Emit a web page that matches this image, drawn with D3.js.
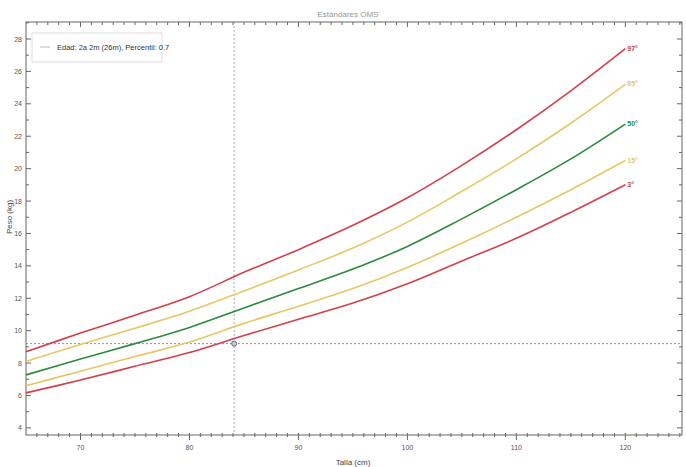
<!DOCTYPE html>
<html>
<head>
<meta charset="utf-8">
<script src="https://cdn.jsdelivr.net/npm/d3@7"></script>
<style>
  body { margin: 0; background: #fff; }
  text { font-family: "Liberation Sans Narrow", "Arial Narrow", "Liberation Sans", sans-serif; }
</style>
</head>
<body>
<div id="chart"></div>
<script>
// chart data (peso para talla, percentiles)
var tallas = [65, 70, 75, 80, 85, 90, 95, 100, 105, 110, 115, 120];
var p3  = [6.16, 6.95, 7.8, 8.65, 9.7, 10.7, 11.7, 12.9, 14.3, 15.7, 17.3, 19.0];
var p15 = [6.6, 7.5, 8.4, 9.3, 10.45, 11.5, 12.6, 13.9, 15.4, 17.0, 18.7, 20.5];
var p50 = [7.27, 8.25, 9.2, 10.2, 11.4, 12.6, 13.8, 15.2, 16.9, 18.7, 20.6, 22.75];
var p85 = [8.1, 9.15, 10.15, 11.2, 12.45, 13.75, 15.1, 16.7, 18.6, 20.6, 22.8, 25.2];
var p97 = [8.7, 9.85, 10.95, 12.1, 13.6, 15.0, 16.5, 18.2, 20.2, 22.4, 24.8, 27.4];
var percentiles = ['3°', '15°', '50°', '85°', '97°'];
var xTickLabels = [70, 80, 90, 100, 110, 120];
var yTickLabels = [4, 6, 8, 10, 12, 14, 16, 18, 20, 22, 24, 26, 28];
var pointTalla = [84.1];
var pointPeso = [9.2];
var legendText = ['Edad: 2a 2m (26m), Percentil: 0.7'];

var width = 686;
var height = 467;
var plotLeft = 26, plotRight = 682, plotTop = 22, plotBottom = 435;

var red = '#d2404c';
var yellow = '#e6c766';
var green = '#2b8a3c';
var colors = [red, yellow, green, yellow, red];
var series = [p3, p15, p50, p85, p97];

var svg = d3.select('#chart')
  .append('svg')
  .attr('width', width)
  .attr('height', height);

var x = d3.scaleLinear().domain([65, 125.2]).range([plotLeft, plotRight]);
var y = d3.scaleLinear().domain([3.56, 29.05]).range([plotBottom, plotTop]);

// title
svg.append('text')
  .attr('x', 348).attr('y', 17)
  .attr('text-anchor', 'middle')
  .attr('font-size', '8px')
  .attr('fill', '#999')
  .text('Estándares OMS');

// frame
svg.append('rect')
  .attr('x', plotLeft).attr('y', plotTop)
  .attr('width', plotRight - plotLeft).attr('height', plotBottom - plotTop)
  .attr('fill', 'none')
  .attr('stroke', '#666')
  .attr('stroke-width', 1);

// minor + major ticks, all four sides
var xMinor = d3.range(66, 126, 1);
var yMinor = d3.range(4, 30, 1);

svg.append('g').selectAll('line')
  .data(xMinor)
  .enter().append('line')
    .attr('x1', function(d) { return x(d); })
    .attr('x2', function(d) { return x(d); })
    .attr('y1', plotBottom - 2)
    .attr('y2', function(d) { return d % 10 === 0 ? plotBottom + 5 : plotBottom + 2; })
    .attr('stroke', '#666');

svg.append('g').selectAll('line')
  .data(xMinor)
  .enter().append('line')
    .attr('x1', function(d) { return x(d); })
    .attr('x2', function(d) { return x(d); })
    .attr('y1', plotTop)
    .attr('y2', function(d) { return d % 10 === 0 ? plotTop + 5 : plotTop + 3; })
    .attr('stroke', '#666');

svg.append('g').selectAll('line')
  .data(yMinor)
  .enter().append('line')
    .attr('x1', plotLeft)
    .attr('x2', function(d) { return d % 2 === 0 ? plotLeft + 5 : plotLeft + 3; })
    .attr('y1', function(d) { return y(d); })
    .attr('y2', function(d) { return y(d); })
    .attr('stroke', '#666');

svg.append('g').selectAll('line')
  .data(yMinor)
  .enter().append('line')
    .attr('x1', plotRight)
    .attr('x2', function(d) { return d % 2 === 0 ? plotRight - 5 : plotRight - 3; })
    .attr('y1', function(d) { return y(d); })
    .attr('y2', function(d) { return y(d); })
    .attr('stroke', '#666');

// tick labels
svg.append('g').selectAll('text')
  .data(xTickLabels)
  .enter().append('text')
    .attr('x', function(d) { return x(d); })
    .attr('y', 450)
    .attr('text-anchor', 'middle')
    .attr('font-size', '7px')
    .attr('fill', '#555')
    .text(function(d) { return d; });

svg.append('g').selectAll('text')
  .data(yTickLabels)
  .enter().append('text')
    .attr('x', plotLeft - 4)
    .attr('y', function(d) { return y(d) + 2.5; })
    .attr('text-anchor', 'end')
    .attr('font-size', '7px')
    .attr('fill', '#555')
    .text(function(d) { return d; });

// axis titles
svg.append('text')
  .attr('x', 353).attr('y', 465)
  .attr('text-anchor', 'middle')
  .attr('font-size', '8px')
  .attr('fill', '#444')
  .text('Talla (cm)');

svg.append('text')
  .attr('transform', 'translate(12,217) rotate(-90)')
  .attr('text-anchor', 'middle')
  .attr('font-size', '8px')
  .attr('fill', '#444')
  .text('Peso (kg)');

// crosshair
svg.append('line')
  .attr('x1', x(pointTalla[0])).attr('x2', x(pointTalla[0]))
  .attr('y1', plotTop).attr('y2', plotBottom)
  .attr('stroke', '#aaa')
  .attr('stroke-dasharray', '2,2');

svg.append('line')
  .attr('x1', plotLeft).attr('x2', plotRight)
  .attr('y1', y(pointPeso[0])).attr('y2', y(pointPeso[0]))
  .attr('stroke', '#d9707c')
  .attr('stroke-dasharray', '2,2');

// percentile curves
var line = d3.line()
  .x(function(d) { return x(d[0]); })
  .y(function(d) { return y(d[1]); })
  .curve(d3.curveCatmullRom);

series.forEach(function(s, i) {
  var pts = tallas.map(function(t, j) { return [t, s[j]]; });
  svg.append('path')
    .datum(pts)
    .attr('d', line)
    .attr('fill', 'none')
    .attr('stroke', colors[i])
    .attr('stroke-width', 1.6);

  svg.append('text')
    .attr('x', x(tallas[tallas.length - 1]) + 2)
    .attr('y', y(s[s.length - 1]) + 2)
    .attr('font-size', '7px')
    .attr('font-weight', 'bold')
    .attr('fill', colors[i])
    .text(percentiles[i]);
});

// point marker
svg.append('circle')
  .attr('cx', x(pointTalla[0]))
  .attr('cy', y(pointPeso[0]))
  .attr('r', 2.5)
  .attr('fill', '#c8c8dc')
  .attr('stroke', '#666688')
  .attr('stroke-width', 1);

// legend
var legend = svg.append('g');
legend.append('rect')
  .attr('x', 32).attr('y', 33)
  .attr('width', 130).attr('height', 29)
  .attr('fill', '#fff')
  .attr('stroke', '#ddd');
legend.append('line')
  .attr('x1', 40).attr('x2', 50)
  .attr('y1', 47).attr('y2', 47)
  .attr('stroke', '#bbb');
legend.append('text')
  .attr('x', 57).attr('y', 50)
  .attr('font-size', '7.5px')
  .attr('fill', '#333')
  .text(legendText[0]);
</script>
</body>
</html>
